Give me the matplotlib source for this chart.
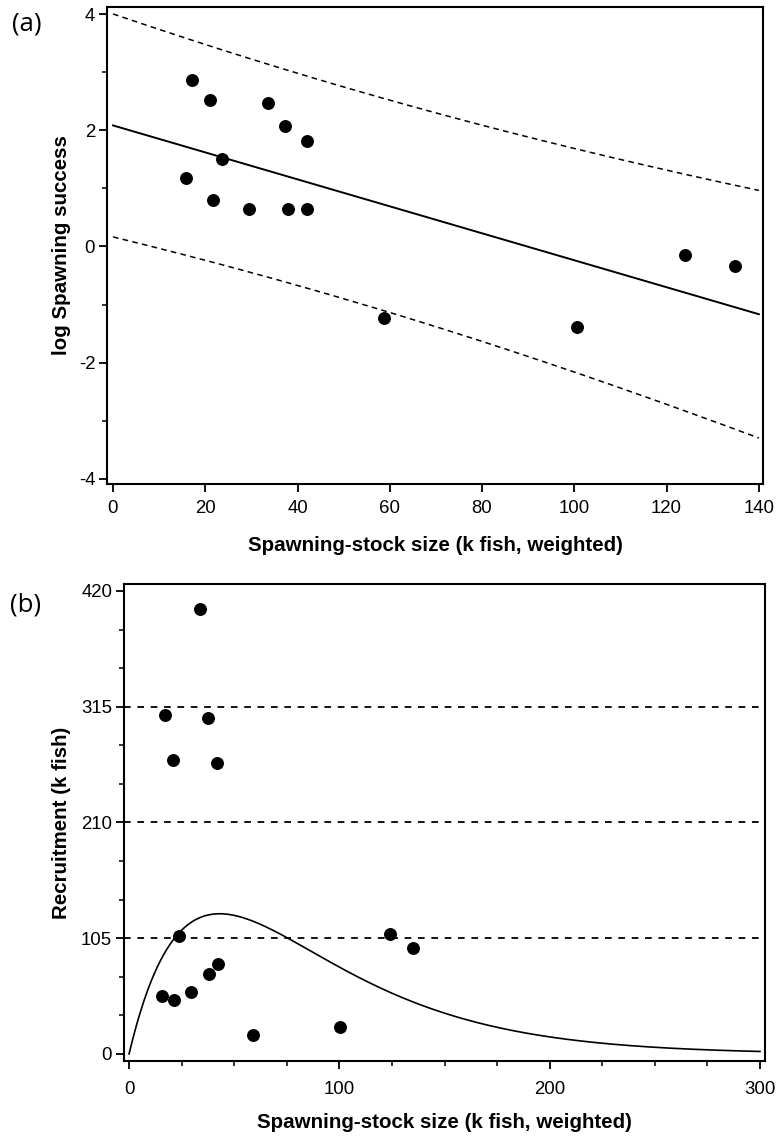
import numpy as np
import matplotlib.pyplot as plt
from matplotlib.ticker import MultipleLocator

plt.rcParams["font.family"] = ["Liberation Sans", "DejaVu Sans"]
plt.rcParams["axes.unicode_minus"] = False

# spawning-stock size (k fish, weighted), one value per year class
stock = np.array([17.1, 21.0, 33.5, 37.3, 42.0, 23.7, 15.9, 21.6,
                  29.4, 37.9, 42.1, 58.8, 100.5, 124.0, 134.9])
# log spawning success for the same years
log_success = np.array([2.87, 2.52, 2.47, 2.08, 1.82, 1.50, 1.18, 0.80,
                        0.64, 0.64, 0.65, -1.24, -1.38, -0.14, -0.34])
# recruitment (k fish) for the same years
recruits = np.array([307.4, 267.1, 404.0, 304.7, 264.3, 107.4, 52.4, 48.7,
                     56.3, 72.6, 81.7, 17.0, 24.8, 108.9, 96.5])

a_xticks = [0, 20, 40, 60, 80, 100, 120, 140]
a_yticks = [-4, -2, 0, 2, 4]
b_xticks = [0, 100, 200, 300]
b_yticks = [0, 105, 210, 315, 420]

XLABEL = "Spawning-stock size (k fish, weighted)"

# linear (Ricker) fit with a 90% prediction band
slope, intercept = np.polyfit(stock, log_success, 1)
n = len(stock)
resid = log_success - (intercept + slope * stock)
s = np.sqrt(np.sum(resid ** 2) / (n - 2))
sxx = np.sum((stock - stock.mean()) ** 2)
t90 = 1.771  # t(0.95, 13 df)

xa = np.linspace(0, 140, 200)
fit_a = intercept + slope * xa
half = t90 * s * np.sqrt(1 + 1 / n + (xa - stock.mean()) ** 2 / sxx)

xb = np.linspace(0, 300, 400)
fit_b = xb * np.exp(intercept + slope * xb)


def style_axes(ax, xpad):
    for sp in ax.spines.values():
        sp.set_linewidth(1.5)
    ax.tick_params(which="major", direction="out", length=5.5, width=1.3,
                   labelsize=13.4)
    ax.tick_params(which="minor", direction="out", length=3.5, width=1.1)
    ax.tick_params(axis="x", which="major", pad=xpad)
    ax.tick_params(axis="y", which="major", pad=3)


fig = plt.figure(figsize=(7.77, 11.36), dpi=100)
panel_font = ["Open Sans", "DejaVu Sans"]

# (a) log spawning success against stock size
ax = fig.add_axes([0.1377, 0.5739, 0.8443, 0.4199])
ax.plot(stock, log_success, "o", color="black", markersize=8.3)
ax.plot(xa, fit_a, color="black", lw=1.4)
ax.plot(xa, fit_a + half, color="black", lw=1.1, linestyle=(0, (3.7, 2.8)))
ax.plot(xa, fit_a - half, color="black", lw=1.1, linestyle=(0, (3.7, 2.8)))
ax.set_xlim(-1.3, 140.9)
ax.set_ylim(-4.09, 4.12)
ax.set_xticks(a_xticks)
ax.set_yticks(a_yticks)
ax.yaxis.set_minor_locator(MultipleLocator(1))
style_axes(ax, xpad=6)
ax.set_xlabel(XLABEL, fontsize=14.8, fontweight="bold")
ax.set_ylabel("log Spawning success", fontsize=14.8, fontweight="bold")
ax.xaxis.set_label_coords(0.5, -0.108)
ax.yaxis.set_label_coords(-0.055, 0.5)
fig.text(0.015, 0.979, "(a)", fontsize=18.5, family=panel_font,
         va="center", ha="left")

# (b) recruitment against stock size with the back-transformed curve
ax = fig.add_axes([0.1596, 0.0660, 0.8250, 0.4199])
for y in b_yticks[1:4]:
    ax.axhline(y, color="black", lw=1.3, linestyle=(0, (3.7, 3.7)))
ax.plot(stock, recruits, "o", color="black", markersize=8.3)
ax.plot(xb, fit_b, color="black", lw=1.2)
ax.set_xlim(-2.4, 302.4)
ax.set_ylim(-6.4, 426.3)
ax.set_xticks(b_xticks)
ax.set_yticks(b_yticks)
ax.xaxis.set_minor_locator(MultipleLocator(25))
ax.yaxis.set_minor_locator(MultipleLocator(35))
style_axes(ax, xpad=9)
ax.set_xlabel(XLABEL, fontsize=14.8, fontweight="bold")
ax.set_ylabel("Recruitment (k fish)", fontsize=14.8, fontweight="bold")
ax.xaxis.set_label_coords(0.5, -0.108)
ax.yaxis.set_label_coords(-0.082, 0.5)
fig.text(0.013, 0.467, "(b)", fontsize=18.5, family=panel_font,
         va="center", ha="left")

fig.savefig("out.png", dpi=100)
